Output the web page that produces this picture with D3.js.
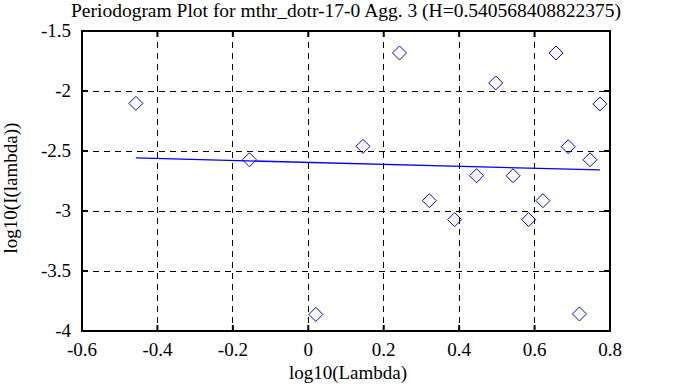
<!DOCTYPE html>
<html>
<head>
<meta charset="utf-8">
<title>Periodogram Plot</title>
<script src="https://d3js.org/d3.v7.min.js"></script>
<style>
  body { margin: 0; background: #fff; }
  text { font-family: "Liberation Serif", "DejaVu Serif", serif; fill: #000; }
</style>
</head>
<body>
<script>
// data
var logLambda = [-0.4571, -0.1561, 0.0200, 0.1450, 0.2419, 0.3210, 0.3880, 0.4460, 0.4971,
                 0.5429, 0.5843, 0.6221, 0.6569, 0.6891, 0.7190, 0.7470, 0.7733];
var logI = [-2.103, -2.573, -3.862, -2.461, -1.683, -2.914, -3.072, -2.706, -1.933,
            -2.706, -3.072, -2.914, -1.683, -2.464, -3.858, -2.573, -2.108];
// fitted line endpoints (slope = 1 - 2H)
var fitX = [-0.4571, 0.7733];
var fitY = [-2.558, -2.658];
var xTicks = [-0.6, -0.4, -0.2, 0, 0.2, 0.4, 0.6, 0.8];
var xTickLabels = ["-0.6", "-0.4", "-0.2", "0", "0.2", "0.4", "0.6", "0.8"];
var yTicks = [-4, -3.5, -3, -2.5, -2, -1.5];
var yTickLabels = ["-4", "-3.5", "-3", "-2.5", "-2", "-1.5"];

var W = 673, H = 387;
var pL = 82, pR = 610, pT = 31, pB = 331;

var svg = d3.select("body").append("svg")
    .attr("width", W)
    .attr("height", H);

var x = d3.scaleLinear().domain([-0.6, 0.8]).range([pL, pR]);
var y = d3.scaleLinear().domain([-4, -1.5]).range([pB, pT]);

// dashed grid
svg.selectAll(".vgrid")
    .data(xTicks.slice(1, -1))
    .enter().append("line")
    .attr("class", "vgrid")
    .attr("x1", d => x(d)).attr("x2", d => x(d))
    .attr("y1", pT).attr("y2", pB)
    .attr("stroke", "#000")
    .attr("stroke-width", 1)
    .attr("stroke-dasharray", "6,5")
    .attr("shape-rendering", "crispEdges");

svg.selectAll(".hgrid")
    .data(yTicks.slice(1, -1))
    .enter().append("line")
    .attr("class", "hgrid")
    .attr("x1", pL).attr("x2", pR)
    .attr("y1", d => y(d)).attr("y2", d => y(d))
    .attr("stroke", "#000")
    .attr("stroke-width", 1)
    .attr("stroke-dasharray", "6,5")
    .attr("shape-rendering", "crispEdges");

// inward tick marks on all four sides
var tk = 6;
xTicks.forEach(function(d) {
    svg.append("line").attr("x1", x(d)).attr("x2", x(d)).attr("y1", pB).attr("y2", pB - tk)
        .attr("stroke", "#000").attr("stroke-width", 2);
    svg.append("line").attr("x1", x(d)).attr("x2", x(d)).attr("y1", pT).attr("y2", pT + tk)
        .attr("stroke", "#000").attr("stroke-width", 2);
});
yTicks.forEach(function(d) {
    svg.append("line").attr("x1", pL).attr("x2", pL + tk).attr("y1", y(d)).attr("y2", y(d))
        .attr("stroke", "#000").attr("stroke-width", 2);
    svg.append("line").attr("x1", pR).attr("x2", pR - tk).attr("y1", y(d)).attr("y2", y(d))
        .attr("stroke", "#000").attr("stroke-width", 2);
});

// frame
svg.append("rect")
    .attr("x", pL).attr("y", pT)
    .attr("width", pR - pL).attr("height", pB - pT)
    .attr("fill", "none")
    .attr("stroke", "#000")
    .attr("stroke-width", 2);

// tick labels
svg.selectAll(".xlab")
    .data(xTicks)
    .enter().append("text")
    .attr("class", "xlab")
    .attr("x", d => x(d))
    .attr("y", 356)
    .attr("text-anchor", "middle")
    .style("font-size", "19px")
    .text((d, i) => xTickLabels[i]);

svg.selectAll(".ylab")
    .data(yTicks)
    .enter().append("text")
    .attr("class", "ylab")
    .attr("x", 71)
    .attr("y", d => y(d))
    .attr("dy", "0.33em")
    .attr("text-anchor", "end")
    .style("font-size", "19px")
    .text((d, i) => yTickLabels[i]);

// fit line
var line = d3.line().x(d => x(d[0])).y(d => y(d[1]));
svg.append("path")
    .datum(fitX.map((d, i) => [d, fitY[i]]))
    .attr("d", line)
    .attr("fill", "none")
    .attr("stroke", "#0000ff")
    .attr("stroke-width", 1.3);

// diamonds
var r = 7;
svg.selectAll(".pt")
    .data(logLambda)
    .enter().append("path")
    .attr("class", "pt")
    .attr("d", function(d, i) {
        var cx = x(d), cy = y(logI[i]);
        return "M" + cx + "," + (cy - r) + "L" + (cx + r) + "," + cy +
               "L" + cx + "," + (cy + r) + "L" + (cx - r) + "," + cy + "Z";
    })
    .attr("fill", "none")
    .attr("stroke", "#0000ff")
    .attr("stroke-width", 1);

// title and axis labels
svg.append("text")
    .attr("x", (pL + pR) / 2)
    .attr("y", 17)
    .attr("text-anchor", "middle")
    .style("font-size", "19.5px")
    .text("Periodogram Plot for mthr_dotr-17-0 Agg. 3 (H=0.540568408822375)");

svg.append("text")
    .attr("x", 348)
    .attr("y", 379)
    .attr("text-anchor", "middle")
    .style("font-size", "19px")
    .text("log10(Lambda)");

svg.append("text")
    .attr("transform", "translate(17,188) rotate(-90)")
    .attr("text-anchor", "middle")
    .style("font-size", "19px")
    .text("log10(I(lambda))");
</script>
</body>
</html>
